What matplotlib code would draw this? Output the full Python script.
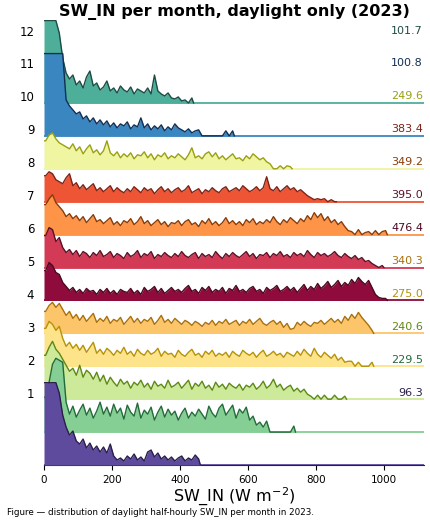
import numpy as np
import matplotlib
matplotlib.use('Agg')
import matplotlib.pyplot as plt

# bins of 10 W m-2 from 0, heights (one row ~ 33)
bin_width = 10
months = ['1', '2', '3', '4', '5', '6', '7', '8', '9', '10', '11', '12']
means = [96.3, 229.5, 240.6, 275.0, 340.3, 476.4, 395.0, 349.2, 383.4, 249.6, 100.8, 101.7]

jan = [130, 125, 118, 110, 72, 50, 38, 30, 34, 24, 21, 26, 17, 22, 15, 19, 13, 18, 12, 21,
       9, 5, 7, 4, 9, 6, 11, 5, 8, 4, 13, 15, 8, 12, 6, 9, 5, 8, 4, 7,
       9, 4, 7, 5, 10, 6]
feb = [35, 50, 68, 74, 72, 70, 30, 18, 26, 15, 22, 28, 17, 24, 14, 21, 30, 18, 25, 16,
       28, 19, 24, 13, 27, 20, 16, 29, 14, 22, 18, 25, 12, 20, 26, 15, 23, 17, 21, 12,
       19, 24, 14, 20, 16, 23, 18, 13, 26, 19, 15, 24, 28, 17, 22, 27, 14, 23, 19, 25,
       12, 16, 7, 10, 5, 11, 0, 0, 0, 0, 0, 0, 0, 6]
mar = [44, 52, 58, 50, 46, 40, 34, 28, 31, 24, 34, 22, 29, 26, 20, 27, 18, 24, 15, 22,
       17, 13, 20, 15, 18, 11, 17, 14, 19, 12, 16, 10, 18, 13, 15, 11, 19, 12, 14, 17,
       11, 15, 19, 10, 16, 13, 18, 11, 14, 9, 17, 12, 15, 10, 16, 13, 11, 15, 9, 14,
       12, 16, 10, 13, 18, 11, 14, 20, 12, 15, 9, 12, 14, 8, 11, 7, 10, 5, 3, 0,
       4, 0, 4, 0, 0, 4, 0, 0, 3]
apr = [38, 45, 42, 36, 40, 28, 20, 24, 18, 22, 16, 21, 14, 19, 24, 13, 17, 12, 18, 15,
       11, 16, 13, 19, 12, 15, 10, 17, 13, 11, 16, 12, 14, 18, 10, 15, 12, 13, 9, 16,
       12, 10, 14, 17, 11, 13, 9, 15, 12, 16, 10, 13, 11, 14, 9, 15, 12, 10, 16, 13,
       11, 14, 9, 13, 16, 10, 12, 15, 11, 13, 9, 14, 12, 10, 15, 11, 17, 13, 10, 18,
       12, 9, 14, 11, 8, 12, 6, 9, 4, 5, 5, 0, 4, 0, 0, 0, 4]
may = [22, 28, 31, 26, 30, 24, 18, 22, 15, 19, 13, 18, 12, 16, 20, 11, 15, 12, 17, 10,
       14, 12, 16, 9, 13, 17, 11, 15, 10, 14, 12, 16, 9, 13, 18, 11, 14, 10, 15, 12,
       9, 13, 11, 8, 12, 10, 7, 11, 9, 13, 8, 12, 10, 14, 9, 11, 13, 8, 12, 10,
       14, 9, 12, 15, 10, 8, 11, 13, 9, 12, 6, 10, 4, 5, 11, 8, 12, 9, 7, 11,
       10, 13, 9, 12, 15, 11, 14, 10, 17, 13, 19, 15, 21, 16, 12, 8, 3]
jun = [30, 38, 35, 28, 26, 18, 14, 10, 13, 8, 11, 7, 12, 9, 10, 6, 11, 8, 12, 7,
       10, 6, 11, 9, 8, 12, 7, 10, 6, 13, 9, 11, 14, 8, 12, 7, 10, 13, 9, 11,
       8, 12, 15, 9, 11, 7, 13, 10, 14, 8, 11, 9, 13, 7, 12, 10, 15, 9, 11, 8,
       12, 14, 9, 11, 7, 13, 10, 12, 15, 9, 11, 14, 10, 13, 8, 12, 16, 10, 14, 11,
       17, 12, 15, 19, 13, 16, 20, 14, 18, 15, 21, 17, 23, 19, 16, 20, 13, 6, 3, 2,
       2]
jul = [32, 40, 38, 26, 30, 20, 15, 18, 13, 17, 11, 16, 14, 10, 15, 12, 17, 11, 13, 16,
       10, 14, 12, 9, 15, 11, 13, 17, 10, 14, 12, 16, 9, 13, 11, 15, 12, 10, 14, 11,
       16, 12, 10, 13, 15, 9, 14, 11, 13, 10, 16, 12, 9, 14, 11, 15, 12, 10, 13, 16,
       11, 14, 9, 13, 12, 15, 10, 14, 12, 16, 11, 13, 10, 15, 12, 14, 11, 17, 13, 10,
       15, 12, 14, 11, 13, 16, 12, 10, 14, 11, 9, 12, 8, 10, 6, 7, 4, 2, 0, 2]
aug = [30, 36, 40, 32, 28, 24, 18, 21, 16, 19, 14, 18, 12, 16, 20, 13, 15, 11, 14, 17,
       10, 13, 9, 14, 12, 16, 10, 13, 18, 11, 14, 9, 12, 15, 10, 13, 8, 12, 11, 14,
       9, 13, 15, 10, 12, 8, 14, 11, 16, 10, 13, 9, 12, 17, 11, 14, 10, 13, 9, 15,
       12, 16, 10, 13, 11, 15, 12, 18, 13, 10, 15, 12, 17, 14, 11, 16, 13, 19, 15, 22,
       17, 21, 14, 18, 12, 15, 10, 13, 8, 4, 3, 0, 5, 0, 2, 3, 0, 4, 0, 3,
       4]
sep = [26, 30, 28, 22, 20, 18, 24, 28, 16, 19, 13, 17, 12, 15, 18, 11, 14, 10, 13, 16,
       10, 14, 11, 9, 13, 10, 15, 12, 9, 14, 11, 13, 8, 12, 15, 10, 13, 9, 12, 14,
       10, 12, 16, 9, 11, 13, 8, 12, 10, 14, 11, 9, 13, 15, 10, 12, 14, 11, 16, 13,
       10, 12, 15, 11, 14, 25, 13, 11, 15, 10, 13, 16, 12, 14, 10, 12, 9, 6, 4, 2,
       3, 2, 3, 0, 2, 0]
oct_ = [28, 34, 36, 30, 26, 24, 22, 20, 25, 18, 22, 15, 20, 24, 16, 19, 14, 18, 28, 16,
        13, 17, 11, 15, 12, 16, 10, 14, 13, 17, 11, 15, 9, 14, 12, 16, 10, 13, 11, 15,
        12, 9, 14, 21, 11, 13, 10, 15, 17, 12, 16, 10, 13, 9, 12, 15, 10, 11, 8, 13,
        10, 15, 12, 9, 11, 7, 5, 0, 0, 3, 0, 3, 2]
nov = [130, 120, 115, 110, 95, 88, 36, 30, 26, 22, 24, 17, 20, 14, 18, 12, 16, 11, 15, 9,
       13, 8, 12, 10, 14, 7, 11, 9, 18, 8, 12, 6, 10, 7, 11, 5, 9, 6, 12, 8,
       6, 4, 7, 3, 5, 6, 0, 0, 0, 0, 0, 0, 0, 5, 0, 5]
dec = [140, 135, 130, 120, 70, 45, 30, 24, 28, 18, 22, 15, 26, 32, 17, 20, 13, 16, 22, 12,
       15, 10, 17, 13, 11, 16, 9, 14, 12, 10, 15, 9, 28, 12, 9, 7, 10, 5, 4, 6,
       2, 3, 0, 5]
hists = [jan, feb, mar, apr, may, jun, jul, aug, sep, oct_, nov, dec]

fill_colors = ['#5e4b9e', '#86cf94', '#cde99a', '#fde38a', '#fdc56a', '#8e0b3b',
               '#d23a55', '#fd9448', '#ee5535', '#eff5a0', '#3a86c0', '#4daf9a']
line_colors = ['#2a1f4a', '#236b3a', '#5c8a14', '#b59208', '#a8700c', '#4a0a22',
               '#5c1226', '#8a3c08', '#7a2418', '#9aa010', '#132f52', '#1d4c44']

row = 33.0      # height units per ridge row
clip = 2.5      # ridges cut at 2.5 rows
label_shift = 2.2
xmax = 1118

fig = plt.figure(figsize=(4.31, 5.23), dpi=100)
ax = fig.add_axes([44/431, 58/523, 380/431, 445/523])

for i, h in enumerate(hists):
    h = np.minimum(np.array(h, dtype=float) / row, clip)
    x = np.arange(len(h)) * bin_width + bin_width / 2
    x = np.concatenate([[0], x, [x[-1] + bin_width / 2]])
    y = np.concatenate([[h[0]], h, [0]]) + i
    z = 20 - i
    ax.axhline(i, color=fill_colors[i], lw=1.3, zorder=z)
    ax.fill_between(x, i, y, color=fill_colors[i], lw=0, zorder=z)
    ax.plot(x, y, color=line_colors[i], lw=1.0, zorder=z)
    ax.text(xmax - 3, i + label_shift, f'{means[i]:.1f}', color=line_colors[i],
            ha='right', va='center', fontsize=8, zorder=30)

ax.set_xlim(0, xmax)
ax.set_ylim(0, 11 + clip + 0.02)
ax.set_yticks([i + label_shift for i in range(12)])
ax.set_yticklabels(months, fontsize=8.5)
ax.tick_params(axis='y', length=0, pad=7)
ax.set_xticks([0, 200, 400, 600, 800, 1000])
ax.tick_params(axis='x', labelsize=7.5, length=3.5)
for s in ['top', 'right', 'left']:
    ax.spines[s].set_visible(False)
ax.spines['bottom'].set_color('#2a1f4a')

ax.set_title('SW_IN per month, daylight only (2023)', fontsize=11.5, fontweight='bold', pad=3)
ax.set_xlabel('SW_IN (W m$^{-2}$)', fontsize=11.5, labelpad=1)
fig.text(0.016, 0.020, 'Figure — distribution of daylight half-hourly SW_IN per month in 2023.',
         fontsize=6.3, va='center')

fig.savefig('out.png', dpi=100)
